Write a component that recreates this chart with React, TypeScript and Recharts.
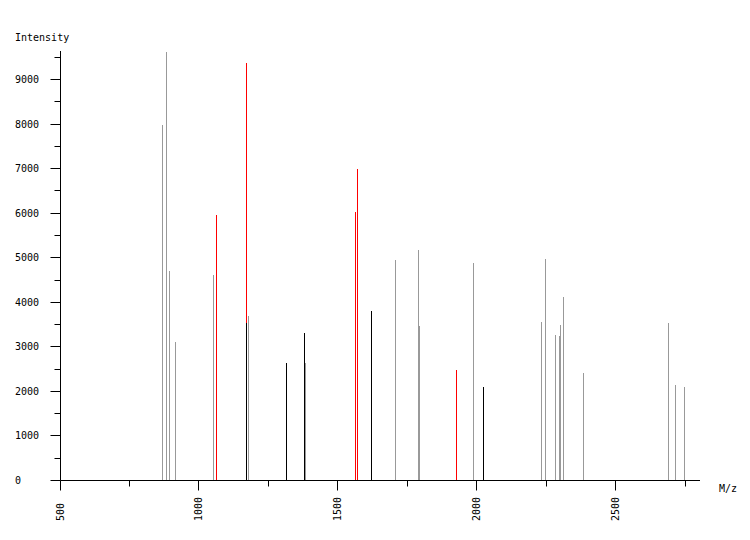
import { ComposedChart, Bar, XAxis, YAxis } from 'recharts'

// peak positions (m/z) and intensities
const grayMz = [869, 883, 894, 916, 1053, 1179, 1384, 1708, 1791, 1794, 1989, 2233, 2248, 2284, 2298, 2302, 2313, 2385, 2691, 2716, 2748]
const grayInt = [7980, 9610, 4700, 3110, 4610, 3690, 2640, 4950, 5170, 3470, 4880, 3560, 4970, 3270, 3240, 3490, 4120, 2410, 3530, 2140, 2100]
const redMz = [1064, 1171, 1564, 1571, 1927]
const redInt = [5960, 9370, 6030, 6990, 2480]
const blackMz = [1171, 1315, 1380, 1621, 2025]
const blackInt = [3530, 2640, 3310, 3800, 2100]

const xTicks = [500, 750, 1000, 1250, 1500, 1750, 2000, 2250, 2500, 2750]
const yTicks = [0, 500, 1000, 1500, 2000, 2500, 3000, 3500, 4000, 4500, 5000, 5500, 6000, 6500, 7000, 7500, 8000, 8500, 9000, 9500]

const FONT = '"DejaVu Sans Mono", monospace'

const rows = [
  ...grayMz.map((mz, i) => ({ mz, gray: grayInt[i], red: 0, black: 0 })),
  ...redMz.map((mz, i) => ({ mz, gray: 0, red: redInt[i], black: 0 })),
  ...blackMz.map((mz, i) => ({ mz, gray: 0, red: 0, black: blackInt[i] })),
].sort((a, b) => a.mz - b.mz)

// 1px crisp stick instead of a bar
const stick = (color: string) => (p: any) => {
  if (!p.height || p.height <= 0) return <g />
  const col = Math.floor(p.x + p.width / 2 - 0.5)
  const top = Math.round(p.y)
  const bottom = Math.round(p.y + p.height)
  return <rect x={col} y={top} width={1} height={bottom - top} fill={color} />
}

function XTick({ x, y, payload }: any) {
  const major = payload.value % 500 === 0
  const cx = Math.floor(x - 0.5) + 0.5
  return (
    <g>
      <line x1={cx} x2={cx} y1={y} y2={y + (major ? 10 : 6)} stroke="#000" />
      {major && (
        <text
          transform={`translate(${cx},${y + 40.5}) rotate(-90)`}
          textAnchor="start"
          dominantBaseline="central"
          fontFamily={FONT}
          fontSize={10}
          fill="#000"
        >
          {payload.value}
        </text>
      )}
    </g>
  )
}

function YTick({ x, y, payload }: any) {
  const major = payload.value % 1000 === 0
  const cy = Math.floor(y) + 0.5
  return (
    <g>
      <line x1={x - (major ? 10 : 6)} x2={x} y1={cy} y2={cy} stroke="#000" />
      {major && (
        <text x={x - 45.5} y={cy} textAnchor="start" dominantBaseline="central" fontFamily={FONT} fontSize={10} fill="#000">
          {payload.value}
        </text>
      )}
    </g>
  )
}

export default function App() {
  return (
    <div style={{ position: 'absolute', left: 0, top: 0, width: 750, height: 540, background: '#fff' }}>
      <ComposedChart width={750} height={540} data={rows} margin={{ top: 51, right: 50, bottom: 0, left: 0 }}>
        <XAxis
          dataKey="mz"
          type="number"
          domain={[500, 2802]}
          ticks={xTicks}
          interval={0}
          height={59.5}
          tickSize={0}
          tickMargin={0}
          tickLine={false}
          tick={<XTick />}
          axisLine={{ stroke: '#000' }}
          allowDataOverflow
        />
        <YAxis
          type="number"
          domain={[0, 9641]}
          ticks={yTicks}
          interval={0}
          width={60.5}
          tickSize={0}
          tickMargin={0}
          tickLine={false}
          tick={<YTick />}
          axisLine={{ stroke: '#000' }}
          allowDataOverflow
        />
        <Bar dataKey="gray" stackId="s" barSize={1} shape={stick('#999999')} isAnimationActive={false} />
        <Bar dataKey="red" stackId="s" barSize={1} shape={stick('#ff0000')} isAnimationActive={false} />
        <Bar dataKey="black" stackId="s" barSize={1} shape={stick('#000000')} isAnimationActive={false} />
      </ComposedChart>
      <svg width={750} height={540} style={{ position: 'absolute', left: 0, top: 0, pointerEvents: 'none' }}>
        <text x={15} y={40.5} fontFamily={FONT} fontSize={10} fill="#000">Intensity</text>
        <text x={719} y={491.5} fontFamily={FONT} fontSize={10} fill="#000">M/z</text>
      </svg>
    </div>
  )
}
